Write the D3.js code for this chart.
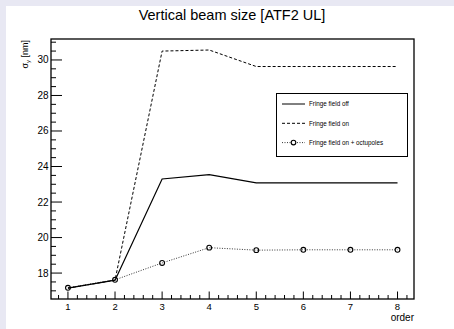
<!DOCTYPE html>
<html>
<head>
<meta charset="utf-8">
<script src="https://cdn.jsdelivr.net/npm/d3@7"></script>
<style>
  body { margin: 0; background: #e8e8f3; }
  svg { display: block; font-family: "Liberation Sans", Arial, sans-serif; }
</style>
</head>
<body>
<div id="chart"></div>
<script>
var svgWidth = 454;
var svgHeight = 329;

var margin = { top: 39, right: 40, bottom: 30, left: 51 };
var width = 414 - margin.left;
var height = 299 - margin.top;

// data
var orders = [1, 2, 3, 4, 5, 6, 7, 8];
var fringeOff = [17.15, 17.6, 23.3, 23.54, 23.08, 23.08, 23.08, 23.08];
var fringeOn = [17.15, 17.6, 30.5, 30.56, 29.63, 29.63, 29.63, 29.63];
var fringeOct = [17.17, 17.62, 18.57, 19.43, 19.29, 19.31, 19.31, 19.31];
var yTicks = [18, 20, 22, 24, 26, 28, 30];
var legendLabels = ["Fringe field off", "Fringe field on", "Fringe field on + octupoles"];

var svg = d3.select("#chart")
    .append("svg")
    .attr("width", svgWidth)
    .attr("height", svgHeight);

// white canvas
svg.append("rect")
    .attr("x", 6).attr("y", 6)
    .attr("width", svgWidth - 6).attr("height", svgHeight - 6)
    .attr("fill", "white");

svg.append("text")
    .attr("x", 232).attr("y", 20)
    .attr("text-anchor", "middle")
    .style("font-size", "14.5px")
    .text("Vertical beam size [ATF2 UL]");

var chartGroup = svg.append("g")
    .attr("transform", `translate(${margin.left}, ${margin.top})`);

var x = d3.scaleLinear().domain([0.64, 8.35]).range([0, width]);
var y = d3.scaleLinear().domain([16.54, 31.18]).range([height, 0]);

// minor ticks
var xMinor = d3.range(0.8, 8.35, 0.2).filter(v => Math.abs(v - Math.round(v)) > 0.01);
var yMinor = d3.range(17, 31.2, 0.5).filter(v => Math.abs(v / 2 - Math.round(v / 2)) > 0.01);

chartGroup.selectAll(".xminor").data(xMinor).enter().append("line")
    .attr("x1", d => x(d)).attr("x2", d => x(d))
    .attr("y1", height).attr("y2", height - 4)
    .attr("stroke", "black");
chartGroup.selectAll(".xmajor").data(orders).enter().append("line")
    .attr("x1", d => x(d)).attr("x2", d => x(d))
    .attr("y1", height).attr("y2", height - 7.5)
    .attr("stroke", "black");
chartGroup.selectAll(".xlab").data(orders).enter().append("text")
    .attr("x", d => x(d)).attr("y", height + 11)
    .attr("text-anchor", "middle")
    .style("font-size", "9.5px")
    .text(d => d);

chartGroup.selectAll(".yminor").data(yMinor).enter().append("line")
    .attr("y1", d => y(d)).attr("y2", d => y(d))
    .attr("x1", 0).attr("x2", 5)
    .attr("stroke", "black");
chartGroup.selectAll(".ymajor").data(yTicks).enter().append("line")
    .attr("y1", d => y(d)).attr("y2", d => y(d))
    .attr("x1", 0).attr("x2", 11)
    .attr("stroke", "black");
chartGroup.selectAll(".ylab").data(yTicks).enter().append("text")
    .attr("x", -2.5).attr("y", d => y(d) + 3.5)
    .attr("text-anchor", "end")
    .style("font-size", "10px")
    .text(d => d);

chartGroup.append("rect")
    .attr("width", width).attr("height", height)
    .attr("fill", "none").attr("stroke", "black").attr("stroke-width", 1.3);

// axis titles
chartGroup.append("text")
    .attr("x", width).attr("y", height + 22)
    .attr("text-anchor", "end")
    .style("font-size", "10px")
    .text("order");

var yt = chartGroup.append("text")
    .attr("transform", "rotate(-90)")
    .attr("x", -1).attr("y", -23)
    .attr("text-anchor", "end")
    .style("font-size", "9px");
yt.append("tspan").text("σ");
yt.append("tspan").attr("dy", 2).style("font-size", "6px").text("y");
yt.append("tspan").attr("dy", -2).text(" [nm]");

var line = d3.line().x((d, i) => x(orders[i])).y(d => y(d));

chartGroup.append("path").datum(fringeOn)
    .attr("d", line).attr("fill", "none")
    .attr("stroke", "black").attr("stroke-dasharray", "3,2");
chartGroup.append("path").datum(fringeOct)
    .attr("d", line).attr("fill", "none")
    .attr("stroke", "black").attr("stroke-width", 0.8).attr("stroke-dasharray", "1,1.5");
chartGroup.append("path").datum(fringeOff)
    .attr("d", line).attr("fill", "none")
    .attr("stroke", "black").attr("stroke-width", 1.2);
chartGroup.selectAll(".pt").data(fringeOct).enter().append("circle")
    .attr("cx", (d, i) => x(orders[i])).attr("cy", d => y(d))
    .attr("r", 2.4).attr("fill", "none").attr("stroke", "black").attr("stroke-width", 1.1);

// legend
var legend = svg.append("g");
legend.append("rect")
    .attr("x", 276.5).attr("y", 93.5).attr("width", 131).attr("height", 63)
    .attr("fill", "white").attr("stroke", "black");
var dashes = [null, "3,2", "1,1.5"];
legendLabels.forEach(function (lab, i) {
    var ly = 104 + i * 19.3;
    legend.append("line")
        .attr("x1", 282).attr("x2", 305).attr("y1", ly).attr("y2", ly)
        .attr("stroke", "black").attr("stroke-width", i == 2 ? 0.8 : 1)
        .attr("stroke-dasharray", dashes[i]);
    if (i == 2) {
        legend.append("circle").attr("cx", 293.5).attr("cy", ly).attr("r", 2.3)
            .attr("fill", "white").attr("stroke", "black").attr("stroke-width", 1.1);
    }
    legend.append("text")
        .attr("x", 309).attr("y", ly + 2.2)
        .style("font-size", "6.3px")
        .text(lab);
});
</script>
</body>
</html>
